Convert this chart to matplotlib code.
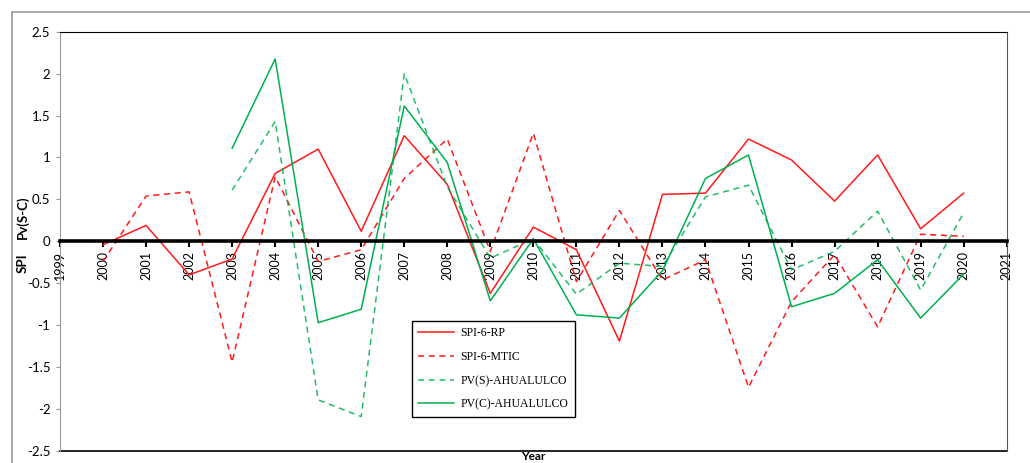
import matplotlib
matplotlib.use("Agg")
import matplotlib.pyplot as plt
from matplotlib.lines import Line2D
import numpy as np

years_full = list(range(2000, 2021))
years_pv = list(range(2003, 2021))

spi_rp = [-0.04, 0.19, -0.40, -0.21, 0.81, 1.10, 0.12, 1.26, 0.68, -0.62,
          0.17, -0.10, -1.19, 0.56, 0.575, 1.22, 0.97, 0.48, 1.03, 0.15, 0.575]
spi_mtic = [-0.24, 0.54, 0.59, -1.44, 0.77, -0.24, -0.10, 0.75, 1.22, -0.12,
            1.29, -0.48, 0.37, -0.46, -0.22, -1.74, -0.72, -0.16, -1.02, 0.085, 0.06]
pv_s = [0.61, 1.43, -1.89, -2.09, 2.00, 0.65, -0.20, 0.03, -0.63, -0.26,
        -0.30, 0.53, 0.67, -0.34, -0.12, 0.36, -0.58, 0.34]
pv_c = [1.11, 2.175, -0.97, -0.81, 1.615, 0.94, -0.71, 0.03, -0.876, -0.915,
        -0.35, 0.75, 1.03, -0.78, -0.62, -0.22, -0.915, -0.39]

xticks = list(range(1999, 2022))
yticks = np.arange(-2.5, 2.51, 0.5)

RED = "#ff1a1a"
GREEN = "#00b050"
tick_font = "Lato"

fig = plt.figure(figsize=(10.30, 4.63), dpi=100)
ax = fig.add_axes([60 / 1030, 1 - 451 / 463, (1006.7 - 60) / 1030, (451 - 31.7) / 463])

ax.plot(years_full, spi_rp, color=RED, lw=1.1, label="SPI-6-RP")
ax.plot(years_full, spi_mtic, color=RED, lw=1.1, ls=(0, (4, 3)), label="SPI-6-MTIC")
ax.plot(years_pv, pv_s, color=GREEN, lw=1.1, ls=(0, (4, 3)), alpha=0.85, label="PV(S)-AHUALULCO")
ax.plot(years_pv, pv_c, color=GREEN, lw=1.1, label="PV(C)-AHUALULCO")

ax.set_xlim(1999, 2021)
ax.set_ylim(-2.5, 2.5)

# x axis sits on the zero line, with a plain border along the bottom
ax.spines["bottom"].set_position(("data", 0))
ax.spines["bottom"].set_linewidth(2.6)
ax.spines["bottom"].set_zorder(5)
ax.spines["top"].set_color("black")
ax.spines["right"].set_color("#555555")
ax.spines["left"].set_color("#999999")
ax.plot([0, 1], [0, 0], transform=ax.transAxes, color="black", lw=1.2, clip_on=False)

ax.set_xticks(xticks)
ax.set_xticklabels([str(y) for y in xticks], rotation=90, fontsize=9, family=tick_font)
ax.tick_params(axis="x", direction="out", length=4, width=1.5, pad=3, color="black")
ax.set_yticks(yticks)
ax.set_yticklabels(["%g" % v for v in yticks], fontsize=9.5, family=tick_font)
ax.tick_params(axis="y", direction="out", length=3, width=0.8, color="#999999", pad=4)

fig.text(22.5 / 1030, 1 - 217 / 463, "Pv(S-C)", rotation=90, ha="center", va="center",
         fontsize=9.5, fontweight="bold", family=tick_font)
fig.text(22.5 / 1030, 1 - 263 / 463, "SPI", rotation=90, ha="center", va="center",
         fontsize=9.5, fontweight="bold", family=tick_font)
fig.text(533 / 1030, 1 / 463, "Year", ha="center", va="bottom",
         fontsize=8.5, fontweight="bold", family=tick_font)

leg = ax.legend(loc="upper left", bbox_to_anchor=(411.7 / 1030, 1 - 320.7 / 463),
                bbox_transform=fig.transFigure, prop={"family": "Liberation Serif", "size": 8.5},
                fancybox=False, shadow=False, framealpha=1, edgecolor="black",
                handlelength=3.0, labelspacing=1.0, borderpad=0.55, handletextpad=0.6,
                borderaxespad=0)
leg.get_frame().set_linewidth(1.0)

# grey frame around the chart area
fig.add_artist(Line2D([12 / 1030, 1.0], [1 - 12 / 463, 1 - 12 / 463], color="#999999", lw=1.2))
fig.add_artist(Line2D([12 / 1030, 12 / 1030], [0.0, 1 - 12 / 463], color="#999999", lw=1.2))

fig.savefig("out.png", dpi=100)
